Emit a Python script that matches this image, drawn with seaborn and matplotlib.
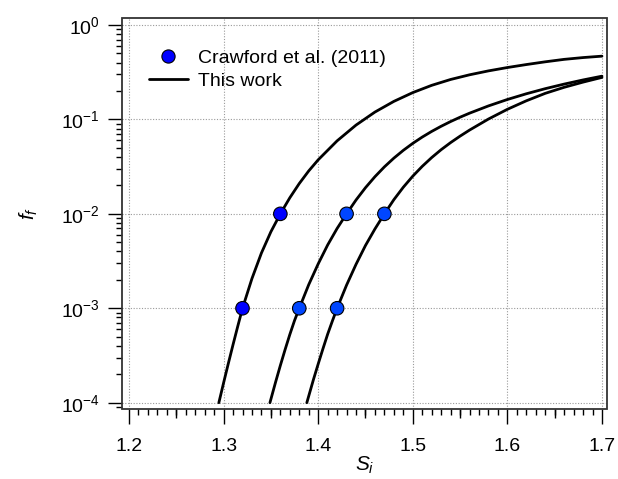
import matplotlib
matplotlib.use("Agg")
import matplotlib.pyplot as plt
import matplotlib.ticker as mticker
from matplotlib.patches import Rectangle
from matplotlib.lines import Line2D
import seaborn as sns
import pandas as pd
import numpy as np

# ---- data (log10 of f_f along each curve) ----
curve1_S = [1.295, 1.30, 1.305, 1.31, 1.315, 1.32, 1.33, 1.34, 1.35, 1.36, 1.37, 1.38, 1.39, 1.40,
            1.42, 1.44, 1.46, 1.48, 1.50, 1.52, 1.54, 1.56, 1.58, 1.60, 1.62, 1.64, 1.66, 1.68, 1.70]
curve1_logf = [-4.0, -3.79, -3.585, -3.385, -3.19, -3.0, -2.685, -2.415, -2.19, -2.0, -1.83, -1.679,
               -1.5455, -1.428, -1.227, -1.06, -0.922, -0.809, -0.716, -0.639, -0.577, -0.5275,
               -0.486, -0.4505, -0.419, -0.39, -0.364, -0.345, -0.33]

curve2_S = [1.349, 1.355, 1.36, 1.365, 1.37, 1.375, 1.38, 1.39, 1.40, 1.41, 1.42, 1.43, 1.44, 1.45,
            1.46, 1.47, 1.48, 1.49, 1.50, 1.51, 1.52, 1.53, 1.54, 1.55, 1.56, 1.58, 1.60, 1.62,
            1.64, 1.66, 1.68, 1.70]
curve2_logf = [-4.0, -3.781, -3.606, -3.4385, -3.2785, -3.13, -3.0, -2.75, -2.53, -2.33, -2.155, -2.0,
               -1.8535, -1.723, -1.6065, -1.5025, -1.41, -1.3275, -1.2535, -1.187, -1.127, -1.0725,
               -1.0225, -0.9765, -0.934, -0.857, -0.789, -0.7285, -0.6745, -0.626, -0.582, -0.542]

curve3_S = [1.388, 1.395, 1.40, 1.405, 1.41, 1.415, 1.42, 1.43, 1.44, 1.45, 1.46, 1.47, 1.48, 1.49,
            1.50, 1.51, 1.52, 1.53, 1.54, 1.55, 1.56, 1.58, 1.60, 1.62, 1.64, 1.66, 1.68, 1.70]
curve3_logf = [-4.0, -3.755, -3.59, -3.43, -3.275, -3.135, -3.0, -2.755, -2.535, -2.335, -2.16, -2.0,
               -1.85, -1.718, -1.601, -1.497, -1.404, -1.3205, -1.2455, -1.177, -1.113, -0.996,
               -0.893, -0.803, -0.724, -0.66, -0.605, -0.555]

crawford_S = [1.32, 1.36, 1.38, 1.43, 1.42, 1.47]
crawford_f = [1e-3, 1e-2, 1e-3, 1e-2, 1e-3, 1e-2]
crawford_set = ["a", "a", "b", "b", "b", "b"]

x_ticks = [1.2, 1.3, 1.4, 1.5, 1.6, 1.7]
y_ticks = [1e-4, 1e-3, 1e-2, 1e-1, 1e0]
y_ticklabels = ["$\\mathregular{10^{-4}}$", "$\\mathregular{10^{-3}}$", "$\\mathregular{10^{-2}}$",
                "$\\mathregular{10^{-1}}$", "$\\mathregular{10^{0}}$"]

legend_labels = ["Crawford et al. (2011)", "This work"]

# ---- style ----
sns.set_style("white")
plt.rcParams["font.family"] = ["Liberation Sans", "DejaVu Sans"]
plt.rcParams["mathtext.fontset"] = "custom"
plt.rcParams["mathtext.rm"] = "Liberation Sans"
plt.rcParams["mathtext.it"] = "Liberation Sans:italic"
plt.rcParams["mathtext.bf"] = "Liberation Sans:bold"
plt.rcParams["text.color"] = "black"
plt.rcParams["axes.labelcolor"] = "black"

fig = plt.figure(figsize=(6.18, 4.79), dpi=100)
ax = fig.add_axes([0.1974, 0.1461, 0.9817 - 0.1974, 0.963 - 0.1461])

curves = pd.concat([
    pd.DataFrame({"S": curve1_S, "f": np.power(10.0, curve1_logf), "c": 1}),
    pd.DataFrame({"S": curve2_S, "f": np.power(10.0, curve2_logf), "c": 2}),
    pd.DataFrame({"S": curve3_S, "f": np.power(10.0, curve3_logf), "c": 3}),
])
for cid, grp in curves.groupby("c"):
    sns.lineplot(data=grp, x="S", y="f", color="black", lw=2.0, sort=False,
                 estimator=None, ax=ax, zorder=3)

pts = pd.DataFrame({"S": crawford_S, "f": crawford_f, "set": crawford_set})
sns.scatterplot(data=pts, x="S", y="f", hue="set",
                palette={"a": "#0000FF", "b": "#0046FF"},
                s=95, edgecolor="black", linewidth=0.8, ax=ax, zorder=4, legend=False)

ax.set_yscale("log")
ax.set_xlim(1.1926, 1.705)
ax.set_ylim(10 ** -4.067, 10 ** 0.077)

ax.set_xticks(x_ticks)
ax.set_xticklabels([f"{v:.1f}" for v in x_ticks])
ax.xaxis.set_minor_locator(mticker.MultipleLocator(0.01))
ax.set_yticks(y_ticks)
ax.set_yticklabels(y_ticklabels)
ax.yaxis.set_minor_locator(mticker.LogLocator(base=10, subs=np.arange(2, 10)))
ax.yaxis.set_minor_formatter(mticker.NullFormatter())

ax.tick_params(axis="x", which="major", direction="out", length=11, width=1.0,
               labelsize=14, colors="black", pad=10)
ax.tick_params(axis="y", which="major", direction="out", length=10, width=1.0,
               labelsize=14, colors="black", pad=6)
ax.tick_params(axis="both", which="minor", direction="out", length=4.5, width=1.0, colors="black")
ax.tick_params(axis="x", which="both", bottom=True, top=False)
ax.tick_params(axis="y", which="both", left=True, right=False)

# mid ticks at 0.05
sec = ax.secondary_xaxis("bottom")
sec.set_xticks([1.25, 1.35, 1.45, 1.55, 1.65])
sec.set_xticklabels([])
sec.tick_params(direction="out", length=6.5, width=1.0, colors="black")
sec.spines["bottom"].set_visible(False)

ax.grid(True, which="major", color="#9a9a9a", linestyle=(0, (1, 1.5)), linewidth=0.8)

for sp in ax.spines.values():
    sp.set_visible(False)
ax.add_patch(Rectangle((0, 0), 1, 1, transform=ax.transAxes, fill=False,
                       edgecolor="#333333", linewidth=1.3, zorder=5, clip_on=False))

ax.set_xlabel("$S_i$", fontsize=15, labelpad=0)
ax.set_ylabel("$f_f$", fontsize=15, labelpad=15)

handles = [
    Line2D([], [], marker="o", linestyle="none", markerfacecolor="#0000FF",
           markeredgecolor="black", markersize=9.5, markeredgewidth=0.8),
    Line2D([], [], color="black", lw=2.0),
]
ax.legend(handles, legend_labels, loc="upper left", bbox_to_anchor=(0.039, 0.94),
          frameon=False, fontsize=14, handlelength=2.0, handletextpad=0.55,
          labelspacing=0.3, borderaxespad=0)

fig.savefig("out.png", dpi=100)
